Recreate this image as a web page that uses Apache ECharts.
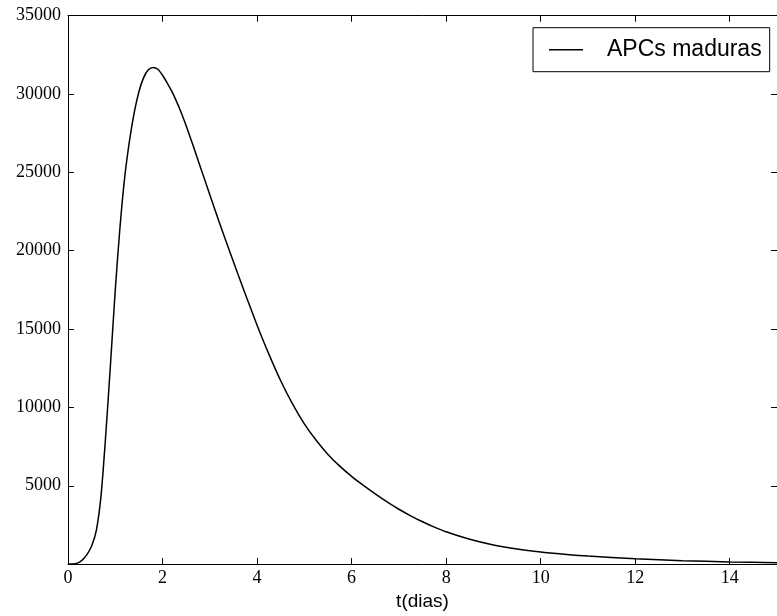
<!DOCTYPE html>
<html>
<head>
<meta charset="utf-8">
<script src="https://cdn.jsdelivr.net/npm/echarts@6/dist/echarts.min.js"></script>
<style>html,body{margin:0;padding:0;background:#fff;}#c{width:777px;height:616px;}</style>
</head>
<body>
<div id="c"></div>
<script>
var seriesName = 'APCs maduras';
var xName = 't(dias)';
var tValues = [0, 0.1, 0.2, 0.3, 0.4, 0.5, 0.6, 0.7, 0.8, 0.9, 1.0, 1.1, 1.2, 1.3, 1.4, 1.5, 1.6, 1.7, 1.8, 1.9, 2.0, 2.1, 2.2, 2.3, 2.4, 2.5, 2.6, 2.7, 2.8, 2.9, 3.0, 3.2, 3.4, 3.6, 3.8, 4.0, 4.25, 4.5, 4.75, 5.0, 5.25, 5.5, 5.75, 6.0, 6.25, 6.5, 6.75, 7.0, 7.25, 7.5, 7.75, 8.0, 8.5, 9.0, 9.5, 10, 10.5, 11, 12, 13, 14, 15];
var apcValues = [0, 5, 60, 250, 600, 1150, 2150, 4400, 8300, 12800, 17500, 21500, 24700, 27000, 28800, 30150, 31050, 31550, 31700, 31580, 31200, 30700, 30150, 29500, 28780, 27980, 27120, 26240, 25350, 24460, 23570, 21820, 20120, 18460, 16840, 15250, 13400, 11700, 10220, 8950, 7900, 7000, 6250, 5600, 5020, 4480, 3970, 3500, 3080, 2700, 2360, 2060, 1580, 1220, 960, 770, 630, 510, 340, 220, 140, 90];
var xTicks = {min: 0, max: 15, interval: 2};
var yTicks = {min: 0, max: 35000, interval: 5000};

var pts = tValues.map(function (t, i) { return [t, apcValues[i]]; });
var chart = echarts.init(document.getElementById('c'), null, {renderer: 'canvas'});
var tickFont = {fontFamily: 'Liberation Serif', fontSize: 18, color: '#000', formatter: function (v) { return String(v); }};
var tickStyle = {show: true, inside: true, length: 6, lineStyle: {color: '#000', width: 1}};
chart.setOption({
  animation: false,
  backgroundColor: '#fff',
  grid: {left: 68, top: 15.7, width: 714.75, height: 553, show: false},
  legend: {
    data: [{name: seriesName, icon: 'rect'}],
    left: 533, top: 27.7,
    orient: 'horizontal',
    backgroundColor: '#fff',
    borderColor: '#000', borderWidth: 1, borderRadius: 0,
    padding: [10, 8, 10, 16],
    itemWidth: 34, itemHeight: 1.5,
    itemGap: 0,
    itemStyle: {color: '#000', borderWidth: 0},
    textStyle: {fontFamily: 'Liberation Sans', fontSize: 23, color: '#000', padding: [0, 0, 0, 19], lineHeight: 24}
  },
  xAxis: [{
    type: 'value', position: 'bottom', min: xTicks.min, max: xTicks.max, interval: xTicks.interval,
    axisLine: {show: true, onZero: false, lineStyle: {color: '#000', width: 1}},
    axisTick: tickStyle,
    axisLabel: Object.assign({margin: 5, showMaxLabel: false}, tickFont),
    splitLine: {show: false},
    name: xName, nameLocation: 'middle', nameGap: 26,
    nameTextStyle: {fontFamily: 'Liberation Sans', fontSize: 19, color: '#000'}
  }, {
    type: 'value', position: 'top', min: xTicks.min, max: xTicks.max, interval: xTicks.interval,
    axisLine: {show: true, onZero: false, lineStyle: {color: '#000', width: 1}},
    axisTick: tickStyle,
    axisLabel: {show: false},
    splitLine: {show: false}
  }],
  yAxis: [{
    type: 'value', position: 'left', min: yTicks.min, max: yTicks.max, interval: yTicks.interval,
    axisLine: {show: true, onZero: false, lineStyle: {color: '#000', width: 1}},
    axisTick: tickStyle,
    axisLabel: Object.assign({margin: 7, showMinLabel: false}, tickFont),
    splitLine: {show: false}
  }, {
    type: 'value', position: 'right', min: yTicks.min, max: yTicks.max, interval: yTicks.interval,
    axisLine: {show: true, onZero: false, lineStyle: {color: '#000', width: 1}},
    axisTick: tickStyle,
    axisLabel: {show: false},
    splitLine: {show: false}
  }],
  series: [{
    name: seriesName,
    type: 'line',
    xAxisIndex: 0, yAxisIndex: 0,
    data: pts,
    smooth: 0.25,
    symbol: 'none',
    showSymbol: false,
    clip: true,
    lineStyle: {color: '#000', width: 1.5},
    itemStyle: {color: '#000'}
  }]
});
</script>
</body>
</html>
